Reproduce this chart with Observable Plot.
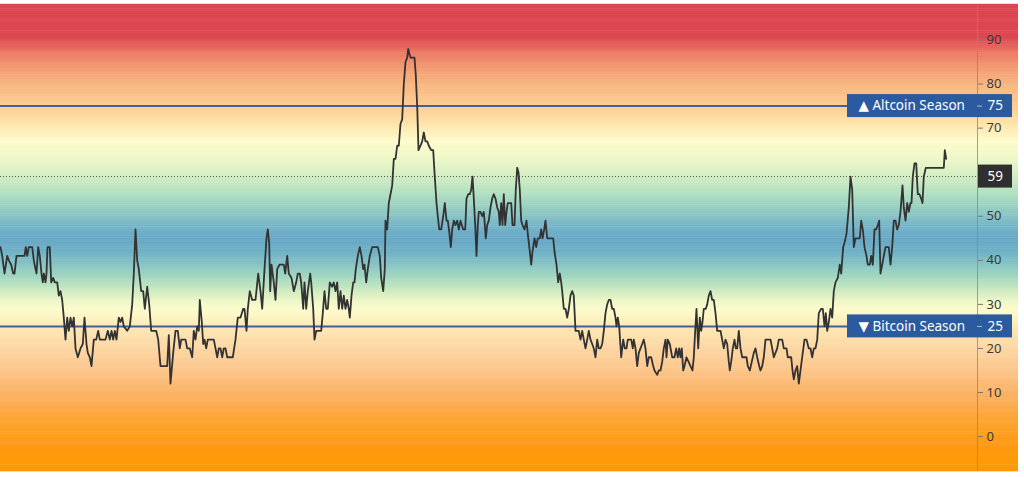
<!DOCTYPE html>
<html>
<head>
<meta charset="utf-8">
<script src="https://cdn.jsdelivr.net/npm/d3@7"></script>
<script src="https://cdn.jsdelivr.net/npm/@observablehq/plot@0.6"></script>
<style>
  html, body { margin: 0; padding: 0; background: #fff; }
  #chart svg { display: block; }
</style>
</head>
<body>
<div id="chart"></div>
<script>
// Time position (chart units, left to right) and Altcoin Season Index value
const day = [0,1.7,4,6.7,8.3,10.7,12.7,14,16,18.3,21.7,24,25.3,26.7,28.3,31.7,33.3,35,36,37.7,39.3,41,42.3,43.3,45,46,47,49.3,50.7,52.7,54.3,56.7,58.3,60,61.7,63.3,65,66.7,68.3,70,71.7,73.3,75,77.3,80,82.3,84,86,87.3,89.3,91,93.3,95.7,97.7,99.3,105,107.3,109.3,111,112.7,114.3,116,118.3,120,121.7,123.3,126.7,129.3,131.7,133.3,135,136.7,138.3,140.7,142.7,144.3,146.7,148.7,150.7,153.3,155.7,157.7,160,163.3,166.7,168.3,170,172.7,175,177.3,179.3,180.7,182.7,185,186.7,189.3,191.7,193.3,195,196.7,198.3,199.3,201.3,202.7,204,205.7,207.3,209.3,213.3,215,216.7,218.3,220,221.7,223.3,225,226.7,230,232.3,235,237.3,240,242.7,244,246,247.3,249.3,251.7,255,257.7,260,261.7,264,266,267.3,268.7,269.7,271,273.3,275,276.7,279,280.7,283.3,284.7,286.7,288.3,291,293.3,295.7,297.3,299.3,300.7,302.7,304,305.7,307.3,309.7,310.7,312.7,314,315.7,318.3,320.7,322.3,324,325.7,327.3,329.3,331.7,333.3,335,336.7,338.3,340,341.7,343.3,345,346.7,348.3,349.3,351,352.7,354,355.3,357.3,359.3,361,362.7,364,365.7,367.3,369.3,371.7,375,377.3,379.3,380.7,382.7,384.3,385,386.7,388.3,390,391.7,393.3,395,396.7,398.3,400,401.7,403.3,405,406.7,407.7,408.7,410,412.7,414,415.3,416.7,418,420,421.7,423.3,425,426.7,428.3,430.7,432.7,434,436,437.3,438.7,440.7,442.7,444.3,446,447.3,449,450.3,451.7,453.3,455,456.7,458.3,460,462.7,464.7,466,467.7,469.3,470.7,472,473.3,474.7,476,477.3,478.3,480,481.7,483.3,484,485.3,486.7,488.3,490,491.7,493.3,495,496.7,498.3,499.3,500.7,502,503.3,504.7,506,507.3,508.7,510.7,512,514,515.3,516.7,518,519.3,520.7,522,524,526,527.3,529.3,530.7,532,534,535.7,537.3,539.3,540.7,542,543.7,545,546.7,548.3,550.7,552.7,554,556,557.7,559.3,560.7,561.7,563.3,565,566.7,568.3,570,571.7,573.3,575,576.7,578.3,580,581.7,583.3,585,586.7,588.3,590,591.7,593.3,595,596.7,598.3,600,601.7,603.3,605,606.7,608.3,610,611.7,613.3,615,616,617.3,618.7,620.7,622.7,624.3,626,627.3,629.3,630.7,632.3,633.3,635,636.7,638.3,640,641.7,643.3,645,646.7,648.3,650.7,652.7,654,656.7,658.3,660,661.7,663.3,665,666,667.3,669.3,671.7,674,675.7,677.3,678.7,680,681.3,682.7,684,686,688,690,692,693.3,694.7,696,697.7,699.3,700.7,702,703.3,705.3,706.7,708.3,710,711.7,713.3,715,716.7,718.3,720,721.7,723.3,725,726.7,728.3,729.3,730.7,732.3,734,735.3,736.7,738.3,740,741.7,744,746,747.3,749.3,751.3,753.3,755,756.7,758.7,760,761.7,763.3,765,766.7,768.3,770,771.7,773.3,775,776.7,778.3,780,781.7,783.3,786,787.3,789,790.7,792,793.3,795,796.7,798.3,800,801.7,804,806,808.3,810,811.7,813.3,815,816.7,818.3,820.7,822.3,824,825.3,826.7,828.3,830,831.7,833.3,835,837.3,839.3,840.7,842.7,844,846,848.3,850,851.7,853.3,855,857.3,859.3,860.7,862.3,864,866,867.3,869.3,870.7,872.3,874,875.7,877.3,878.7,880,881.7,883.3,885,886.7,888.3,890,891.7,893.3,895,896.7,898.3,900,902,903.3,905,906.7,908.3,910,911,912.3,914,915.7,917.3,919,920.7,922,923.3,925.3,941.7,943.3,944.3,945.7];
const altIndex = [43,41,37,41,40,39,37,37,41,41,41,41,43,41,43,43,40,38,37,43,41,37,35,37,35,37,43,43,35,36,35,35,32,33,31,27,22,27,24,27,25,27,20,18,20,21,27,21,19,18,16,22,22,24,22,22,24,22,24,22,24,22,27,26,27,25,24,25,30,37,47,40,38,33,33,29,34,30,24,24,24,22,16,16,16,23,12,19,24,24,20,22,22,22,20,20,18,24,22,25,24,31,26,21,22,20,22,22,22,20,18,20,20,18,20,20,18,18,18,22,27,27,29,29,24,29,33,31,31,37,33,29,38,45,47,44,33,39,35,31,38,39,39,39,37,41,37,36,33,35,37,37,35,29,35,29,33,37,35,29,22,24,24,24,28,33,29,29,35,34,35,33,35,29,33,29,32,29,31,29,27,32,35,35,38,41,43,41,38,39,35,38,41,43,43,43,41,36,33,38,49,47,53,55,57,63,63,66,66,71,72,80,85,86,88,87,86,86,86,82,75,65,66,67,69,67,67,66,65,65,60,53,50,47,47,50,53,49,49,46,43,47,49,48,49,47,49,47,47,54,55,55,56,59,54,48,41,48,51,51,50,51,49,45,48,49,52,54,55,54,52,51,48,53,48,55,48,51,53,53,53,48,48,56,61,60,56,49,48,47,49,46,42,39,42,45,43,45,45,47,45,47,49,45,45,45,45,42,39,35,37,35,33,29,29,27,29,32,33,32,24,24,24,22,24,22,20,22,24,22,21,20,18,22,20,20,21,24,28,30,31,31,29,29,27,25,27,25,18,22,20,20,22,22,22,20,22,20,16,19,20,21,22,20,16,18,18,16,15,14,15,15,17,20,22,18,22,21,18,18,20,18,20,18,20,15,16,18,17,16,15,18,24,29,20,27,24,26,29,29,30,32,33,31,31,28,24,24,24,22,20,22,21,17,15,17,20,22,20,20,24,20,18,18,18,16,15,17,19,20,18,16,15,16,18,22,22,22,22,20,18,19,20,22,22,22,20,20,18,18,18,15,13,15,16,12,15,18,22,22,20,20,18,20,20,22,28,29,29,25,28,24,26,29,27,33,35,36,39,37,43,44,46,52,59,56,43,45,45,45,49,47,43,41,39,39,41,39,47,47,48,49,37,39,41,43,43,43,39,43,49,49,47,48,51,57,52,49,53,51,53,53,59,62,62,55,55,54,53,59,61,61,61,65,63,59];

// Reference levels and axis ticks (60 sits under the current-value badge)
const altcoinLevel = 75;
const bitcoinLevel = 25;
const currentValue = 59;
const yTicks = [0, 10, 20, 30, 40, 50, 70, 80, 90];
const yDomain = [-7.7, 97.6];
const xDomain = [0, 977];

// Background colour ramp (value -> colour)
const rampStops  = [-8, -2, 4, 10, 15, 20, 25, 28.5, 30.5, 33, 36, 39, 42, 45, 48, 52, 55, 59, 63, 67, 71, 75, 79, 83, 87, 90.5, 98];
const rampColors = ["#ff9800","#ff9a10","#fda535","#fbb366","#fcc68c","#fdd7a4","#fde9b6","#fdfbcc","#f0f7c8","#cdebc0","#a5d8c0","#86c4c4","#6eb0c6","#68a8c6","#78b6c8","#99d0c2","#b0dfc0","#d3edc2","#eef7c8","#fefccc","#fee3aa","#fdcc92","#f9bb84","#f4a075","#eb7a64","#dc4650","#dc4650"];

const data = day.map((d, i) => ({day: d, value: altIndex[i]}));
const bands = d3.range(-8, 98, 0.5).map(v => ({lo: v, hi: v + 0.6, mid: v + 0.25}));
const levels = [
  {value: altcoinLevel, label: "▲ Altcoin Season"},
  {value: bitcoinLevel, label: "▼ Bitcoin Season"}
];

const font = "'Noto Sans', 'DejaVu Sans', sans-serif";

const chart = Plot.plot({
  width: 1024,
  height: 477,
  marginLeft: 0,
  marginRight: 47,
  marginTop: 6,
  marginBottom: 7,
  style: {fontFamily: font, background: "#fff"},
  x: {domain: xDomain, axis: null},
  y: {domain: yDomain, axis: null},
  color: {type: "linear", domain: rampStops, range: rampColors, interpolate: "rgb"},
  marks: [
    Plot.rect(bands, {y1: "lo", y2: "hi", fill: "mid", insetRight: -41}),
    Plot.ruleY([currentValue], {stroke: "#555", strokeWidth: 1, strokeDasharray: "1,2"}),
    Plot.ruleY(levels, {y: "value", stroke: "#40609a", strokeWidth: 2}),
    Plot.line(data, {x: "day", y: "value", stroke: "#333", strokeWidth: 1.8}),
    Plot.frame({anchor: "right", stroke: "#888", strokeOpacity: 0.8}),
    Plot.axisY({anchor: "right", ticks: yTicks, tickSize: 5, tickPadding: 4, fontSize: 13, color: "#3a3a3a", stroke: "#777", label: null}),
    Plot.rect(levels, {y1: "value", y2: "value", fill: "#2b5a9e", insetTop: -11.5, insetBottom: -11.5, insetLeft: 847, insetRight: -35}),
    Plot.text(levels, {y: "value", text: "label", frameAnchor: "right", textAnchor: "start", dx: -119, fill: "#fff", fontSize: 13.5}),
    Plot.tickY(levels, {y: "value", stroke: "#aab8d4", insetLeft: 977, insetRight: -5}),
    Plot.text(levels, {y: "value", text: d => String(d.value), frameAnchor: "right", textAnchor: "start", dx: 10, fill: "#fff", fontSize: 13.5}),
    Plot.rect([currentValue], {y1: d => d, y2: d => d, fill: "#2f2f2f", insetTop: -11.5, insetBottom: -11.5, insetLeft: 978, insetRight: -35}),
    Plot.text([currentValue], {y: d => d, text: d => String(d), frameAnchor: "right", textAnchor: "start", dx: 10, fill: "#fff", fontSize: 13.5})
  ]
});

document.getElementById("chart").appendChild(chart);
</script>
</body>
</html>
